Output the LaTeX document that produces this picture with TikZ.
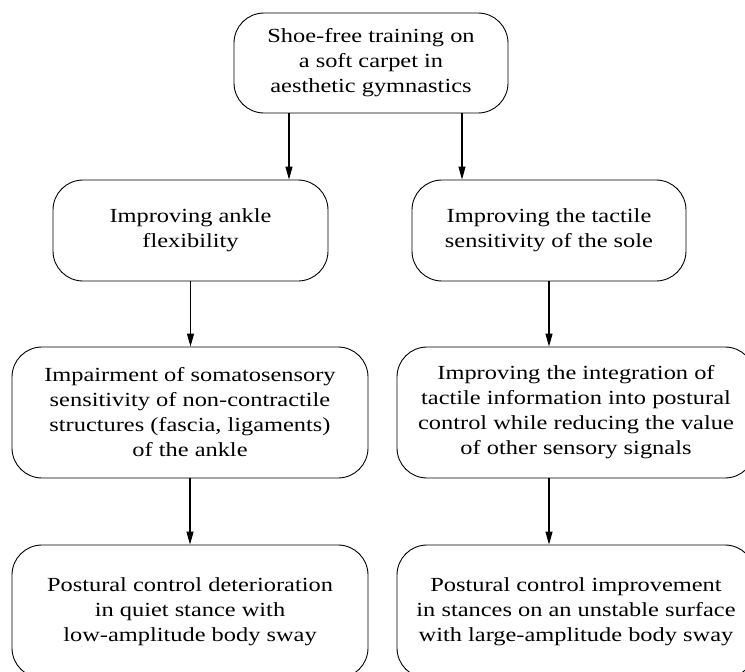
\documentclass[tikz,border=0pt]{standalone}
\usepackage{fontspec}
\setmainfont{Liberation Serif}[FakeStretch=1.22]
\usetikzlibrary{arrows.meta}
\begin{document}
\begin{tikzpicture}[x=1pt,y=-1pt,
  box/.style={draw, line width=0.9pt, rounded corners=30pt, align=center, inner sep=0pt,
              font=\fontsize{20}{25}\selectfont},
  arr/.style={line width=1.1pt, -{Triangle[length=13pt,width=7pt]}}]
\useasboundingbox (0,0) rectangle (745,672);
\clip (0,0) rectangle (745,672);
\node[box, minimum width=274pt, minimum height=100pt] (top) at (371,63)
  {Shoe-free training on\\a soft carpet in\\aesthetic gymnastics};
\node[box, minimum width=275pt, minimum height=101pt] (ml) at (190.5,230.5)
  {Improving ankle\\flexibility};
\node[box, minimum width=274pt, minimum height=101pt] (mr) at (549,230.5)
  {Improving the tactile\\sensitivity of the sole};
\node[box, minimum width=356pt, minimum height=131pt] (ll) at (190,412.5)
  {Impairment of somatosensory\\sensitivity of non-contractile\\structures (fascia, ligaments)\\of the ankle};
\node[box, minimum width=358pt, minimum height=131pt] (rr) at (576,412.5)
  {Improving the integration of\\tactile information into postural\\control while reducing the value\\of other sensory signals};
\node[box, minimum width=356pt, minimum height=133pt] (lb) at (190,611.5)
  {Postural control deterioration\\in quiet stance with\\low-amplitude body sway};
\node[box, minimum width=358pt, minimum height=133pt] (rb) at (576,611.5)
  {Postural control improvement\\in stances on an unstable surface\\with large-amplitude body sway};
\draw[arr] ([xshift=-82pt]top.south) -- ([xshift=-82pt]top.south |- ml.north);
\draw[arr] ([xshift=91pt]top.south) -- ([xshift=91pt]top.south |- mr.north);
\draw[arr] (ml.south) -- (ml.south |- ll.north);
\draw[arr] (mr.south) -- (mr.south |- rr.north);
\draw[arr] (ll.south) -- (ll.south |- lb.north);
\draw[arr] (mr.south |- rr.south) -- (mr.south |- rb.north);
\end{tikzpicture}
\end{document}
